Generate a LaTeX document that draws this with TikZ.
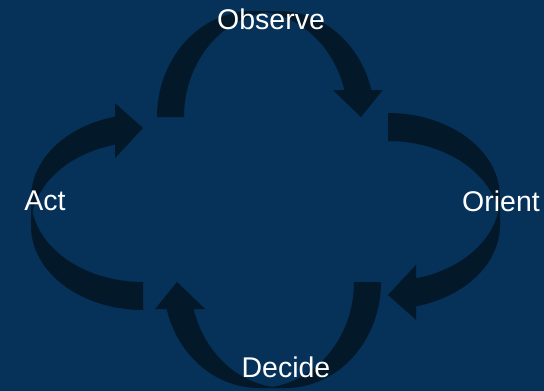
\documentclass[tikz,border=0pt]{standalone}
\usepackage{fontspec}
\setmainfont{Liberation Sans}
\definecolor{bgblue}{RGB}{6,49,88}
\definecolor{arrowdark}{RGB}{3,25,42}
\tikzset{
  arrowfill/.style={fill=arrowdark},
  label/.style={text=white, anchor=base, inner sep=0pt, font=\fontsize{28.5}{34}\selectfont}
}
% curved band arrow in local frame: u = bulge direction, v = tail -> head
% #1 = W (bulge), #2 = band thickness, #3 = head width, #4 = head length, #5 = half radius along v
\newcommand\ooCurvedArrow[5]{%
  \pgfmathsetmacro\aW{#1}%
  \pgfmathsetmacro\aT{#2}%
  \pgfmathsetmacro\aAW{#3}%
  \pgfmathsetmacro\aAH{#4}%
  \pgfmathsetmacro\aR{#5}%
  \pgfmathsetmacro\aTi{acos(-\aT/(2*\aR))}%
  \pgfmathsetmacro\aPj{acos(\aT/(2*\aR))}%
  \pgfmathsetmacro\aTf{180-asin(\aAH/\aW)}%
  \pgfmathsetmacro\aYfive{\aR-\aR*cos(\aTf)}%
  \pgfmathsetmacro\aYseven{\aYfive+\aT}%
  \pgfmathsetmacro\aDh{(\aAW-\aT)/2}%
  \pgfmathsetmacro\aYfour{\aYfive-\aDh}%
  \pgfmathsetmacro\aYeight{\aYseven+\aDh}%
  \pgfmathsetmacro\aYsix{2*\aR+\aT/2}%
  \fill[arrowfill]
    plot[domain=0:\aTi,samples=50,variable=\q] ({\aW*sin(\q)},{\aR-\aR*cos(\q)})
    -- plot[domain=\aPj:0,samples=50,variable=\q] ({\aW*sin(\q)},{\aR+\aT-\aR*cos(\q)})
    -- cycle
    plot[domain=90:\aTf,samples=50,variable=\q] ({\aW*sin(\q)},{\aR-\aR*cos(\q)})
    -- (\aAH,\aYfour) -- (0,\aYsix) -- (\aAH,\aYeight) -- (\aAH,\aYseven)
    -- plot[domain=\aTf:90,samples=50,variable=\q] ({\aW*sin(\q)},{\aR+\aT-\aR*cos(\q)})
    -- cycle;
}
\begin{document}
\begin{tikzpicture}[x=1pt,y=-1pt]
\fill[bgblue] (0,0) rectangle (544,391);
\useasboundingbox (0,0) rectangle (544,391);
% Orient arrow (right)
\begin{scope}[shift={(388pt,-113pt)},x={(1pt,0pt)},y={(0pt,-1pt)}]
  \ooCurvedArrow{112}{28}{55}{28}{84}
\end{scope}
% Act arrow (left)
\begin{scope}[shift={(143pt,-310pt)},x={(-1pt,0pt)},y={(0pt,1pt)}]
  \ooCurvedArrow{112}{28}{55}{28}{84}
\end{scope}
% Observe arrow (top)
\begin{scope}[shift={(157pt,-117pt)},x={(0pt,1pt)},y={(1pt,0pt)}]
  \ooCurvedArrow{106}{27}{50}{27}{95.25}
\end{scope}
% Decide arrow (bottom)
\begin{scope}[shift={(381pt,-282pt)},x={(0pt,-1pt)},y={(-1pt,0pt)}]
  \ooCurvedArrow{106}{27}{50}{27}{95.25}
\end{scope}
\node[label] (observe) at (271,29.5) {Observe};
\node[label] (orient) at (501,211.7) {Orient};
\node[label] (decide) at (286,377.7) {Decide};
\node[label] (act) at (45,210.5) {Act};
\end{tikzpicture}
\end{document}
